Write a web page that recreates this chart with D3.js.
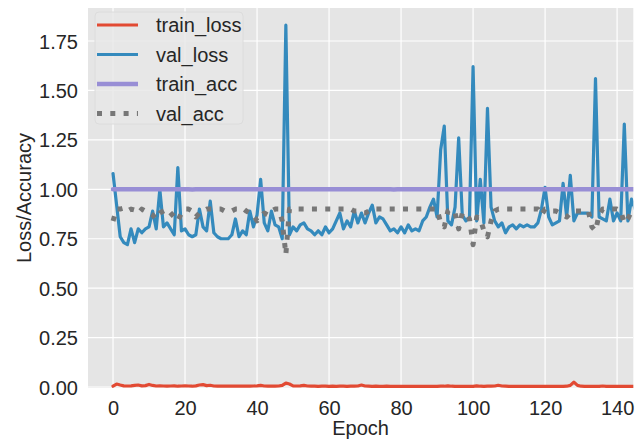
<!DOCTYPE html>
<html>
<head>
<meta charset="utf-8">
<script src="https://cdn.jsdelivr.net/npm/d3@7"></script>
<style>
  html, body { margin: 0; padding: 0; background: #ffffff; }
  svg { display: block; }
  text { font-family: "Liberation Sans", Arial, Helvetica, sans-serif; fill: #262626; }
</style>
</head>
<body>
<svg id="chart" width="644" height="441"></svg>
<script>
// Training history per epoch
const epochs = d3.range(0, 146);

const trainLoss = [
  0.004, 0.015, 0.010, 0.006, 0.005, 0.006, 0.008, 0.010, 0.006, 0.007,
  0.013, 0.008, 0.005, 0.006, 0.005, 0.004, 0.005, 0.006, 0.004, 0.005,
  0.006, 0.005, 0.004, 0.006, 0.010, 0.012, 0.007, 0.009, 0.005, 0.004,
  0.004, 0.005, 0.004, 0.004, 0.005, 0.004, 0.004, 0.005, 0.004, 0.005,
  0.006, 0.008, 0.005, 0.004, 0.005, 0.004, 0.005, 0.008, 0.020, 0.015,
  0.006, 0.005, 0.006, 0.008, 0.005, 0.004, 0.004, 0.003, 0.004, 0.004,
  0.003, 0.004, 0.003, 0.004, 0.004, 0.003, 0.004, 0.004, 0.005, 0.010,
  0.005, 0.004, 0.003, 0.004, 0.003, 0.003, 0.004, 0.003, 0.003, 0.003,
  0.003, 0.003, 0.003, 0.003, 0.003, 0.003, 0.003, 0.003, 0.003, 0.003,
  0.003, 0.004, 0.004, 0.006, 0.004, 0.003, 0.003, 0.003, 0.003, 0.003,
  0.003, 0.006, 0.004, 0.003, 0.004, 0.004, 0.005, 0.009, 0.005, 0.004,
  0.003, 0.003, 0.003, 0.003, 0.003, 0.003, 0.003, 0.003, 0.003, 0.003,
  0.003, 0.003, 0.003, 0.003, 0.003, 0.003, 0.004, 0.008, 0.025, 0.008,
  0.004, 0.003, 0.003, 0.003, 0.003, 0.003, 0.005, 0.003, 0.003, 0.003,
  0.003, 0.003, 0.003, 0.003, 0.003, 0.003
];

const valLoss = [
  1.08, 0.92, 0.76, 0.73, 0.72, 0.80, 0.73, 0.80, 0.78, 0.80,
  0.81, 0.89, 0.80, 1.00, 0.81, 0.83, 0.80, 0.77, 1.11, 0.79,
  0.80, 0.77, 0.76, 0.77, 0.90, 0.81, 0.79, 0.94, 0.78, 0.76,
  0.75, 0.75, 0.75, 0.77, 0.85, 0.76, 0.79, 0.77, 0.89, 0.81,
  0.87, 1.05, 0.83, 0.79, 0.89, 0.82, 0.81, 0.75, 1.83, 0.77,
  0.81, 0.79, 0.82, 0.83, 0.80, 0.79, 0.77, 0.79, 0.77, 0.81,
  0.78, 0.80, 0.84, 0.88, 0.80, 0.84, 0.81, 0.89, 0.83, 0.88,
  0.83, 0.88, 0.92, 0.83, 0.86, 0.85, 0.82, 0.79, 0.80, 0.78,
  0.81, 0.78, 0.82, 0.79, 0.80, 0.79, 0.84, 0.86, 0.91, 0.95,
  0.86, 1.20, 1.32, 0.84, 0.82, 0.91, 1.26, 0.87, 0.84, 0.86,
  1.62, 0.84, 1.05, 0.83, 1.41, 0.91, 0.84, 0.81, 0.83, 0.78,
  0.81, 0.82, 0.80, 0.82, 0.81, 0.82, 0.81, 0.81, 0.83, 0.90,
  1.01, 0.86, 0.82, 0.83, 0.84, 1.03, 0.86, 1.07, 0.84, 0.88,
  0.88, 0.88, 0.88, 0.86, 1.56, 0.86, 0.85, 0.84, 0.95, 0.84,
  0.88, 0.84, 1.33, 0.84, 0.95, 0.90
];

const trainAcc = [
  1.000, 1.000, 1.000, 1.000, 1.000, 1.000, 1.000, 1.000, 1.000, 1.000,
  1.000, 1.000, 1.000, 1.000, 1.000, 1.000, 1.000, 1.000, 1.000, 1.000,
  1.000, 1.000, 0.999, 1.000, 1.000, 1.000, 1.000, 1.000, 1.000, 1.000,
  1.000, 1.000, 1.000, 1.000, 1.000, 1.000, 1.000, 1.000, 1.000, 1.000,
  1.000, 1.000, 1.000, 1.000, 1.000, 1.000, 1.000, 1.000, 0.999, 1.000,
  1.000, 1.000, 1.000, 1.000, 1.000, 1.000, 1.000, 1.000, 1.000, 1.000,
  1.000, 1.000, 1.000, 1.000, 1.000, 1.000, 1.000, 1.000, 1.000, 1.000,
  1.000, 1.000, 1.000, 1.000, 1.000, 1.000, 1.000, 1.000, 0.999, 1.000,
  1.000, 1.000, 1.000, 1.000, 1.000, 1.000, 1.000, 1.000, 1.000, 1.000,
  1.000, 1.000, 1.000, 1.000, 1.000, 1.000, 1.000, 1.000, 1.000, 1.000,
  1.000, 1.000, 1.000, 1.000, 1.000, 1.000, 1.000, 1.000, 1.000, 1.000,
  1.000, 1.000, 1.000, 1.000, 1.000, 1.000, 1.000, 1.000, 1.000, 1.000,
  1.000, 1.000, 1.000, 1.000, 1.000, 1.000, 1.000, 1.000, 0.999, 1.000,
  1.000, 1.000, 1.000, 1.000, 1.000, 1.000, 1.000, 1.000, 1.000, 1.000,
  1.000, 1.000, 1.000, 1.000, 1.000, 1.000
];

const valAcc = [
  0.84, 0.90, 0.90, 0.905, 0.89, 0.90, 0.895, 0.88, 0.90, 0.89,
  0.88, 0.87, 0.85, 0.88, 0.89, 0.90, 0.88, 0.86, 0.84, 0.88,
  0.90, 0.90, 0.89, 0.86, 0.88, 0.89, 0.90, 0.90, 0.90, 0.90,
  0.90, 0.89, 0.89, 0.89, 0.90, 0.90, 0.905, 0.89, 0.88, 0.87,
  0.84, 0.86, 0.88, 0.87, 0.89, 0.90, 0.90, 0.84, 0.67, 0.90,
  0.90, 0.90, 0.90, 0.90, 0.90, 0.90, 0.90, 0.90, 0.90, 0.90,
  0.90, 0.90, 0.90, 0.90, 0.90, 0.90, 0.90, 0.89, 0.89, 0.88,
  0.88, 0.89, 0.90, 0.90, 0.90, 0.90, 0.90, 0.90, 0.90, 0.90,
  0.90, 0.90, 0.90, 0.90, 0.90, 0.90, 0.90, 0.90, 0.90, 0.90,
  0.90, 0.83, 0.81, 0.89, 0.90, 0.88, 0.80, 0.88, 0.88, 0.85,
  0.72, 0.86, 0.85, 0.79, 0.76, 0.84, 0.89, 0.90, 0.90, 0.90,
  0.90, 0.90, 0.90, 0.90, 0.90, 0.90, 0.90, 0.90, 0.90, 0.87,
  0.90, 0.90, 0.89, 0.89, 0.88, 0.87, 0.86, 0.88, 0.89, 0.89,
  0.89, 0.89, 0.89, 0.81, 0.79, 0.87, 0.90, 0.90, 0.90, 0.90,
  0.90, 0.89, 0.83, 0.85, 0.89, 0.90
];

const xTicks = [0, 20, 40, 60, 80, 100, 120, 140];
const yTicks = [0, 0.25, 0.5, 0.75, 1.0, 1.25, 1.5, 1.75];

const seriesNames = ["train_loss", "val_loss", "train_acc", "val_acc"];
const seriesValues = [trainLoss, valLoss, trainAcc, valAcc];

// Line styles (ggplot-like palette)
const styles = {
  train_loss: { color: "#E24A33", width: 3.2, dash: null },
  val_loss:   { color: "#348ABD", width: 3.2, dash: null },
  train_acc:  { color: "#988ED5", width: 4.6, dash: null },
  val_acc:    { color: "#777777", width: 5,   dash: "5,8.3" }
};

const svg = d3.select("#chart");
const plot = { left: 88, right: 633.3, top: 8, bottom: 388 };

const x = d3.scaleLinear().domain([-6.95, 144.5]).range([plot.left, plot.right]);
const y = d3.scaleLinear().domain([-0.005, 1.917]).range([plot.bottom, plot.top]);

svg.append("defs").append("clipPath").attr("id", "plot-clip")
  .append("rect")
  .attr("x", plot.left).attr("y", plot.top)
  .attr("width", plot.right - plot.left).attr("height", plot.bottom - plot.top);

// Background
svg.append("rect")
  .attr("x", plot.left).attr("y", plot.top)
  .attr("width", plot.right - plot.left).attr("height", plot.bottom - plot.top)
  .attr("fill", "#E5E5E5");

// Grid
const grid = svg.append("g").attr("clip-path", "url(#plot-clip)");
grid.selectAll(".gx").data(xTicks).join("line")
  .attr("x1", d => x(d)).attr("x2", d => x(d))
  .attr("y1", plot.top).attr("y2", plot.bottom)
  .attr("stroke", "#ffffff").attr("stroke-width", 1.2);
grid.selectAll(".gy").data(yTicks).join("line")
  .attr("x1", plot.left).attr("x2", plot.right)
  .attr("y1", d => y(d)).attr("y2", d => y(d))
  .attr("stroke", "#ffffff").attr("stroke-width", 1.2);

// Axes (labels only, no tick marks or domain line)
const xAxis = d3.axisBottom(x).tickValues(xTicks).tickSize(0).tickPadding(0).tickFormat(d3.format("d"));
const yAxis = d3.axisLeft(y).tickValues(yTicks).tickSize(0).tickPadding(0).tickFormat(d3.format(".2f"));

const gx = svg.append("g").attr("transform", `translate(0,${plot.bottom})`).call(xAxis);
gx.select(".domain").remove();
gx.selectAll("text")
  .attr("y", 27).attr("dy", 0)
  .style("font-size", "20px").style("fill", "#262626")
  .style("font-family", '"Liberation Sans", Arial, sans-serif');

const gy = svg.append("g").attr("transform", `translate(${plot.left},0)`).call(yAxis);
gy.select(".domain").remove();
gy.selectAll("text")
  .attr("x", -10).attr("dy", "0.35em")
  .style("font-size", "20px").style("fill", "#262626")
  .style("font-family", '"Liberation Sans", Arial, sans-serif');

// Axis titles
svg.append("text")
  .attr("x", (plot.left + plot.right) / 2).attr("y", 435)
  .attr("text-anchor", "middle").style("font-size", "20px")
  .text("Epoch");
svg.append("text")
  .attr("transform", `translate(30.5,${(plot.top + plot.bottom) / 2}) rotate(-90)`)
  .attr("text-anchor", "middle").style("font-size", "20px")
  .text("Loss/Accuracy");

// Series lines
const line = d3.line().x((d, i) => x(epochs[i])).y(d => y(d));
const lines = svg.append("g").attr("clip-path", "url(#plot-clip)");
seriesNames.forEach((name, k) => {
  const s = styles[name];
  lines.append("path")
    .datum(seriesValues[k])
    .attr("d", line)
    .attr("fill", "none")
    .attr("stroke", s.color)
    .attr("stroke-width", s.width)
    .attr("stroke-linejoin", "round")
    .attr("stroke-linecap", s.dash ? "butt" : "round")
    .attr("stroke-dasharray", s.dash);
});

// Legend
const legend = svg.append("g");
legend.append("rect")
  .attr("x", 95).attr("y", 12).attr("width", 148).attr("height", 112)
  .attr("rx", 4).attr("ry", 4)
  .attr("fill", "#E8E8E8").attr("fill-opacity", 0.85)
  .attr("stroke", "#dcdcdc").attr("stroke-width", 1);
const rowY = [25, 54.5, 84, 113.5];
seriesNames.forEach((name, k) => {
  const s = styles[name];
  legend.append("line")
    .attr("x1", 97).attr("x2", 138)
    .attr("y1", rowY[k]).attr("y2", rowY[k])
    .attr("stroke", s.color).attr("stroke-width", s.width)
    .attr("stroke-dasharray", s.dash);
  legend.append("text")
    .attr("x", 156).attr("y", rowY[k]).attr("dy", "0.35em")
    .style("font-size", "20px")
    .text(name);
});
</script>
</body>
</html>
